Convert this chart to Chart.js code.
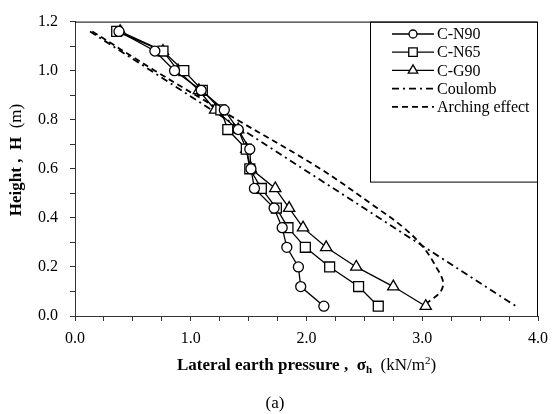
<!DOCTYPE html>
<html>
<head>
<meta charset="utf-8">
<script src="https://cdn.jsdelivr.net/npm/chart.js@4.4.0/dist/chart.umd.min.js"></script>
<style>html,body{margin:0;padding:0;background:#fff}</style>
</head>
<body>
<canvas id="chart" width="556" height="414"></canvas>
<script>
// heights of the measuring points (m)
var heights = [1.16, 1.08, 1.00, 0.92, 0.84, 0.76, 0.68, 0.60, 0.52, 0.44, 0.36, 0.28, 0.20, 0.12, 0.04];
// lateral earth pressure (kN/m2)
var cN90 = [0.38, 0.69, 0.86, 1.09, 1.29, 1.41, 1.51, 1.52, 1.55, 1.72, 1.79, 1.83, 1.93, 1.95, 2.15];
var cN65 = [0.36, 0.76, 0.94, 1.10, 1.26, 1.32, 1.48, 1.51, 1.61, 1.74, 1.84, 1.99, 2.20, 2.45, 2.62];
var cG90 = [0.39, 0.76, 0.89, 1.07, 1.21, 1.41, 1.48, 1.52, 1.73, 1.85, 1.97, 2.17, 2.43, 2.75, 3.03];

var coulombH = [1.16, 0.60, 0.04];
var coulombP = [0.13, 1.97, 3.81];

var archingH = [1.16, 1.00, 0.80, 0.60, 0.44, 0.36, 0.28, 0.20, 0.14, 0.10, 0.07, 0.05];
var archingP = [0.15, 0.69, 1.40, 2.12, 2.61, 2.84, 3.01, 3.12, 3.18, 3.16, 3.09, 3.03];

var xTicks = [0, 1, 2, 3, 4];
var yTicks = [0, 0.2, 0.4, 0.6, 0.8, 1.0, 1.2];

var serif = '"Liberation Serif", "Times New Roman", serif';

function pts(xs, ys) {
    return xs.map(function (v, i) { return { x: v, y: ys[i] }; });
}

function marked(label, xs, style, r) {
    return {
        label: label,
        data: pts(xs, heights),
        showLine: true,
        borderColor: '#000',
        borderWidth: 1.3,
        pointStyle: style,
        pointRadius: r,
        pointBackgroundColor: '#fff',
        pointBorderColor: '#000',
        pointBorderWidth: 1.3
    };
}

// draw text made of several runs (sub/superscripts)
function drawRuns(ctx, runs, cx, cy) {
    var total = 0;
    runs.forEach(function (r) { ctx.font = r.font; r.w = ctx.measureText(r.t).width; total += r.w; });
    var x = cx - total / 2;
    ctx.textBaseline = 'middle';
    ctx.textAlign = 'left';
    runs.forEach(function (r) {
        ctx.font = r.font;
        ctx.fillText(r.t, x, cy + (r.dy || 0));
        x += r.w;
    });
}

var legendItems = [
    { text: 'C-N90', style: 'circle', r: 5, dash: [] },
    { text: 'C-N65', style: 'rect', r: 7, dash: [] },
    { text: 'C-G90', style: 'triangle', r: 6.5, dash: [] },
    { text: 'Coulomb', style: false, dash: [7, 4, 2, 4] },
    { text: 'Arching effect', style: false, dash: [6, 4] }
];

var extras = {
    id: 'extras',
    afterDraw: function (chart) {
        var ctx = chart.ctx, a = chart.chartArea;
        ctx.save();
        ctx.strokeStyle = '#000';
        ctx.lineWidth = 1;
        // frame top and right
        ctx.beginPath();
        ctx.moveTo(a.left, a.top + 0.5);
        ctx.lineTo(a.right - 0.5, a.top + 0.5);
        ctx.lineTo(a.right - 0.5, a.bottom);
        ctx.stroke();

        // legend box
        ctx.strokeRect(370.5, a.top + 0.5, a.right - 371, 160);
        ctx.fillStyle = '#000';
        legendItems.forEach(function (it, i) {
            var y = 34 + i * 18.2;
            ctx.save();
            ctx.setLineDash(it.dash);
            ctx.lineWidth = it.style ? 1.3 : 1.8;
            ctx.beginPath();
            ctx.moveTo(392, y);
            ctx.lineTo(434, y);
            ctx.stroke();
            ctx.restore();
            if (it.style) {
                ctx.save();
                ctx.fillStyle = '#fff';
                ctx.strokeStyle = '#000';
                ctx.lineWidth = 1.3;
                Chart.helpers.drawPoint(ctx, { pointStyle: it.style, radius: it.r - 1, rotation: 0, borderWidth: 1.3 }, 413, y);
                ctx.restore();
            }
            ctx.fillStyle = '#000';
            ctx.font = '16px ' + serif;
            ctx.textAlign = 'left';
            ctx.textBaseline = 'middle';
            ctx.fillText(it.text, 437, y + 1);
        });

        // axis titles
        var b = 'bold 17px ' + serif, n = '17px ' + serif;
        drawRuns(ctx, [
            { t: 'Lateral earth pressure ,  ', font: b },
            { t: 'σ', font: b },
            { t: 'h', font: 'bold 11px ' + serif, dy: 4 },
            { t: '  (kN/m', font: n },
            { t: '2', font: '11px ' + serif, dy: -5 },
            { t: ')', font: n }
        ], (a.left + a.right) / 2, 366);

        ctx.save();
        ctx.translate(17, 160);
        ctx.rotate(-Math.PI / 2);
        drawRuns(ctx, [
            { t: 'Height ,  H  ', font: b },
            { t: '(m)', font: n }
        ], 0, 0);
        ctx.restore();

        ctx.font = '17px ' + serif;
        ctx.textAlign = 'center';
        ctx.textBaseline = 'middle';
        ctx.fillText('(a)', 275, 404);
        ctx.restore();
    }
};

new Chart(document.getElementById('chart').getContext('2d'), {
    type: 'scatter',
    data: {
        datasets: [
            marked('C-N90', cN90, 'circle', 5),
            marked('C-N65', cN65, 'rect', 7),
            marked('C-G90', cG90, 'triangle', 6.5),
            {
                label: 'Coulomb',
                data: pts(coulombP, coulombH),
                showLine: true,
                borderColor: '#000',
                borderWidth: 1.8,
                borderDash: [7, 4, 2, 4],
                pointRadius: 0
            },
            {
                label: 'Arching effect',
                data: pts(archingP, archingH),
                showLine: true,
                borderColor: '#000',
                borderWidth: 1.8,
                borderDash: [6, 4],
                tension: 0.35,
                pointRadius: 0
            }
        ]
    },
    options: {
        responsive: false,
        animation: false,
        devicePixelRatio: 1,
        layout: { padding: { left: 0, top: 12, right: 17, bottom: 0 } },
        plugins: { legend: { display: false }, tooltip: { enabled: false } },
        scales: {
            x: {
                type: 'linear',
                min: 0,
                max: 4,
                afterFit: function (s) { s.height = 98; },
                border: { color: '#333', width: 1 },
                grid: { drawOnChartArea: false, tickLength: 5, tickColor: '#333' },
                ticks: {
                    stepSize: 0.25,
                    autoSkip: false,
                    maxRotation: 0,
                    padding: 8,
                    color: '#000',
                    font: { family: serif, size: 16 },
                    callback: function (v) {
                        return xTicks.indexOf(v) >= 0 ? v.toFixed(1) : '';
                    }
                }
            },
            y: {
                type: 'linear',
                min: 0,
                max: 1.2,
                afterFit: function (s) { s.width = 75; },
                border: { color: '#333', width: 1 },
                grid: { drawOnChartArea: false, tickLength: 5, tickColor: '#333' },
                ticks: {
                    stepSize: 0.1,
                    autoSkip: false,
                    padding: 12,
                    color: '#000',
                    font: { family: serif, size: 16 },
                    callback: function (v) {
                        var r = Math.round(v * 10) / 10;
                        return yTicks.some(function (t) { return Math.abs(t - r) < 1e-9; }) ? r.toFixed(1) : '';
                    }
                }
            }
        }
    },
    plugins: [extras]
});
</script>
</body>
</html>
